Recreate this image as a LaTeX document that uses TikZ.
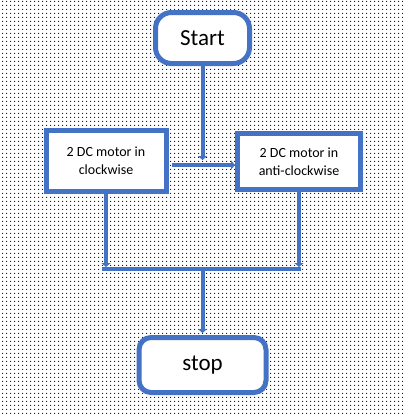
\documentclass[tikz,border=0pt]{standalone}
\usepackage{fontspec}
\setmainfont{Carlito}
\usetikzlibrary{positioning,arrows.meta,patterns.meta}
\definecolor{flowblue}{HTML}{4472C4}

\begin{document}
\begin{tikzpicture}[node distance=2cm, auto]
    % Define styles
    \tikzstyle{terminal}=[rectangle, rounded corners=16pt, draw=flowblue, line width=5pt, fill=white, font=\fontsize{23}{26}\selectfont]
    \tikzstyle{box}=[rectangle, draw=flowblue, line width=5pt, fill=white, align=center, font=\fontsize{14}{18}\selectfont]
    \tikzstyle{line}=[draw=flowblue, line width=4.5pt]
    \tikzstyle{arrow}=[-{Triangle[width=9pt,length=4pt]}, draw=flowblue, line width=4pt]

    % Dotted background
    \useasboundingbox[pattern={Dots[distance=4pt,radius=0.7pt]}] (0,0) rectangle (403pt,-416pt);

    % Nodes
    \node[terminal, minimum width=94pt, minimum height=51pt] (start) at (202.5pt,-38pt) {Start};
    \node[box, minimum width=120pt, minimum height=61pt, anchor=north] (cw) [below=62pt of start, xshift=-96.5pt] {2 DC motor in\\clockwise};
    \node[box, minimum width=123pt, minimum height=56pt, anchor=north] (acw) [below=65pt of start, xshift=96.5pt] {2 DC motor in\\anti-clockwise};
    \node[terminal, rounded corners=12pt, minimum width=127pt, minimum height=55pt] (stop) [below=269pt of start] {stop};

    % Junction points
    \coordinate (hit) at ([yshift=1pt]cw.center -| start.south);
    \coordinate (merge) at ([yshift=66pt]stop.north);

    % Connections
    \draw[arrow] (start) -- (hit);
    \draw[arrow, shorten <=3pt] ([yshift=-4pt]cw.east) -- ([yshift=-4pt]cw.east -| acw.west);
    \draw[arrow] (cw) -- ([yshift=2pt]cw.south |- merge);
    \draw[arrow] (acw) -- ([yshift=2pt]acw.south |- merge);
    \draw[line] ([xshift=-4pt]cw.south |- merge) -- ([xshift=2pt]acw.south |- merge);
    \draw[arrow] (merge) -- ([yshift=2pt]stop.north);
\end{tikzpicture}
\end{document}
